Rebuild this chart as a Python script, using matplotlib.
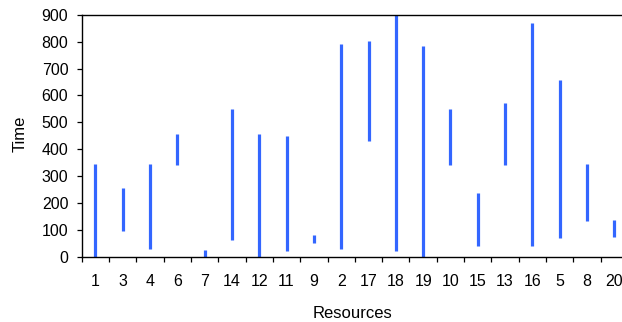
import numpy as np
import matplotlib
matplotlib.use("Agg")
from matplotlib import pyplot as plt
from matplotlib.ticker import FixedLocator, MultipleLocator

# resource order along the x axis, with start / end time of each one
resources = ["1", "3", "4", "6", "7", "14", "12", "11", "9", "2",
             "17", "18", "19", "10", "15", "13", "16", "5", "8", "20"]
start = [0, 95, 31, 342, 0, 62, 0, 21, 51, 31,
         430, 21, 0, 342, 41, 342, 41, 71, 132, 76]
end = [344, 257, 347, 457, 27, 548, 457, 448, 83, 790,
       803, 900, 783, 549, 238, 573, 869, 658, 347, 137]

LINE_COLOR = "#3366ff"

plt.rcParams['font.family'] = ['Liberation Sans', 'DejaVu Sans']

def main():
    W, H = 622, 322
    fig = plt.figure(figsize=(W / 100, H / 100), dpi=100)
    # plot area runs slightly past the right edge of the figure
    ax = fig.add_axes([81.7 / W, 1 - 257 / H, (628 - 81.7) / W, (257 - 14.7) / H])

    x = np.arange(len(resources))
    ax.vlines(x, start, end, colors=LINE_COLOR, linewidth=2.3)

    ax.set_xlim(-0.5, len(resources) - 0.5)
    ax.set_ylim(0, 900)

    # category labels in the middle, tick marks on the boundaries
    ax.set_xticks(x)
    ax.set_xticklabels(resources)
    ax.xaxis.set_minor_locator(FixedLocator(np.arange(-0.5, len(resources), 1.0)))
    ax.tick_params(axis='x', which='major', length=0, pad=12.5, labelsize=11.5)
    ax.tick_params(axis='x', which='minor', length=3.6, width=0.9, direction='out')
    ax.yaxis.set_major_locator(MultipleLocator(100))
    ax.tick_params(axis='y', length=3.6, width=0.9, pad=6, labelsize=11.5)

    for side in ['left', 'bottom', 'top']:
        ax.spines[side].set_linewidth(1.0)
    ax.spines['right'].set_visible(False)

    fig.text(20 / W, 1 - 134 / H, "Time", rotation=90, ha='center', va='center', fontsize=12)
    fig.text(352.5 / W, 1 - 313 / H, "Resources", ha='center', va='center', fontsize=12)

    fig.savefig("out.png", dpi=100)

if __name__ == "__main__":
    main()
